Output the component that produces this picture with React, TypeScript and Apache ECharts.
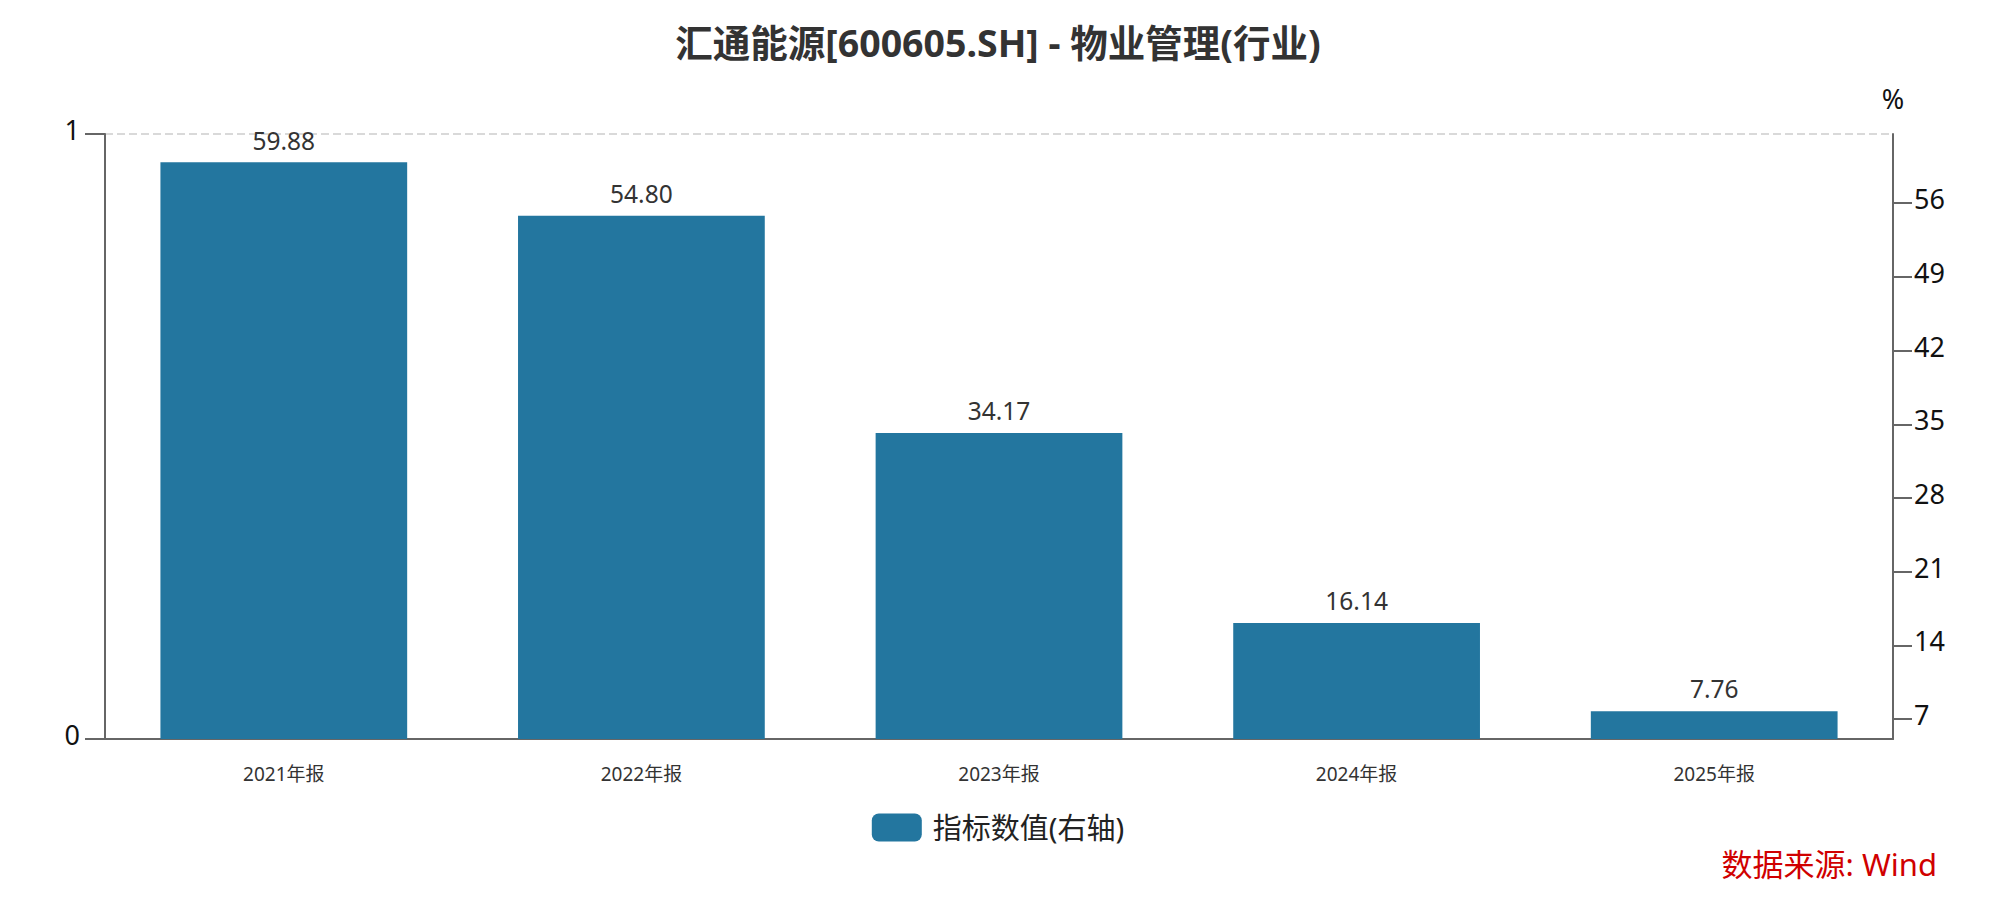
import React, { useEffect, useRef } from 'react';
import * as echarts from 'echarts';

const categories = ['2021年报', '2022年报', '2023年报', '2024年报', '2025年报'];
const values = [59.88, 54.8, 34.17, 16.14, 7.76];
const rightTicks = [7, 14, 21, 28, 35, 42, 49, 56];
const rightMin = 5.12;
const rightMax = 62.57;

const FONT = '"Noto Sans", "Noto Sans CJK SC", sans-serif';

// y 轴刻度文字略微上移
const yLabelRich = {
  v: { fontSize: 27, color: '#111', fontFamily: FONT, padding: [0, 0, 9, 0] }
};

const App: React.FC = () => {
  const chartRef: any = useRef(null);

  useEffect(() => {
    const chart = echarts.init(chartRef.current, null, { renderer: 'svg' });
    const option = {
      animation: false,
      textStyle: { fontFamily: FONT },
      title: {
        text: '汇通能源[600605.SH] - 物业管理(行业)',
        left: 'center',
        top: 19,
        textStyle: { fontSize: 37.5, fontWeight: 'bold', color: '#333', fontFamily: FONT }
      },
      legend: {
        data: ['指标数值(右轴)'],
        left: 'center',
        top: 808,
        itemWidth: 50,
        itemHeight: 28,
        icon: 'roundRect',
        textStyle: { fontSize: 29, color: '#222', fontFamily: FONT, padding: [0, 0, 0, 6] }
      },
      grid: { left: 105, right: 103, top: 134, bottom: 165, containLabel: false },
      xAxis: {
        type: 'category',
        data: categories,
        axisLine: { lineStyle: { color: '#666', width: 2 } },
        axisTick: { alignWithLabel: true, length: 18, lineStyle: { color: '#666', width: 2 } },
        axisLabel: { fontSize: 19, color: '#333', margin: 25, fontFamily: FONT }
      },
      yAxis: [
        {
          type: 'value',
          position: 'left',
          min: 0,
          max: 1,
          interval: 1,
          axisLine: { show: true, lineStyle: { color: '#666', width: 2 } },
          axisTick: { show: true, length: 20, lineStyle: { color: '#666', width: 2 } },
          axisLabel: { margin: 25, formatter: '{v|{value}}', rich: yLabelRich },
          splitLine: { show: true, lineStyle: { type: 'dashed', color: '#d9d9d9', width: 2 } }
        },
        {
          type: 'value',
          position: 'right',
          min: rightMin,
          max: rightMax,
          name: '%',
          nameLocation: 'end',
          nameGap: 22,
          nameTextStyle: { fontSize: 27, color: '#111', align: 'center', fontFamily: FONT },
          axisLine: { show: true, lineStyle: { color: '#666', width: 2 } },
          axisTick: { show: true, length: 19, customValues: rightTicks, lineStyle: { color: '#666', width: 2 } },
          axisLabel: {
            margin: 21,
            customValues: rightTicks,
            formatter: '{v|{value}}',
            rich: yLabelRich
          },
          splitLine: { show: false }
        }
      ],
      series: [
        {
          name: '指标数值(右轴)',
          type: 'bar',
          yAxisIndex: 1,
          data: values,
          barCategoryGap: '31%',
          itemStyle: { color: '#23769f' },
          label: {
            show: true,
            position: 'top',
            distance: 10,
            fontSize: 24.5,
            color: '#333',
            fontFamily: FONT,
            formatter: (p: any) => p.value.toFixed(2)
          }
        }
      ],
      graphic: [
        {
          type: 'text',
          right: 59,
          top: 848,
          style: { text: '数据来源: Wind', fontSize: 31, fill: '#d00000', fontFamily: FONT }
        }
      ]
    };
    chart.setOption(option);
    return () => {
      chart.dispose();
    };
  }, []);

  return (
    <div
      ref={chartRef}
      style={{ position: 'fixed', left: 0, top: 0, width: '1996px', height: '904px', background: '#fff' }}
    ></div>
  );
};

export default App;
